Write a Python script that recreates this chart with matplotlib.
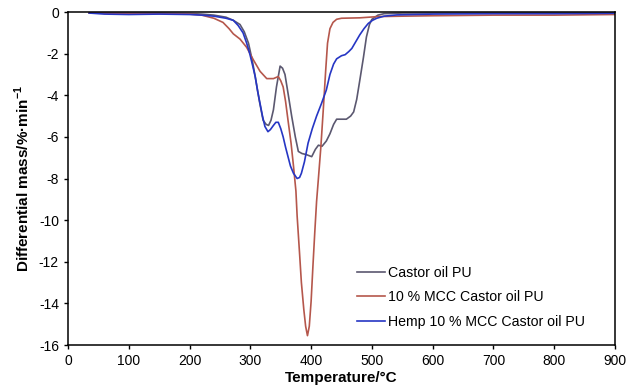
import matplotlib
matplotlib.use("Agg")
import matplotlib.pyplot as plt

plt.rcParams["font.family"] = ["Liberation Sans", "DejaVu Sans"]
plt.rcParams["axes.unicode_minus"] = False

# Castor oil PU
t_castor = [35, 100, 150, 200, 220, 240, 260, 272, 283, 290, 297, 303, 308, 315,
            321, 326, 330, 334, 338, 343, 349, 353, 357, 362, 368, 374, 379, 385,
            392, 401, 407, 412, 418, 425, 431, 437, 442, 450, 458, 465, 470, 475,
            480, 486, 491, 496, 500, 510, 520, 550, 600, 700, 800, 900]
v_castor = [-0.05, -0.05, -0.05, -0.07, -0.1, -0.15, -0.25, -0.4, -0.6, -0.95,
            -1.5, -2.3, -3.1, -4.3, -5.2, -5.4, -5.45, -5.2, -4.7, -3.6, -2.6,
            -2.7, -3.0, -3.9, -5.0, -6.0, -6.7, -6.8, -6.85, -6.95, -6.6, -6.4,
            -6.45, -6.2, -5.85, -5.4, -5.15, -5.15, -5.15, -5.0, -4.8, -4.2,
            -3.3, -2.2, -1.2, -0.6, -0.35, -0.15, -0.08, -0.05, -0.05, -0.05,
            -0.05, -0.05]

# 10 % MCC Castor oil PU
t_mcc = [35, 100, 150, 200, 220, 240, 255, 265, 272, 283, 294, 305, 316, 327,
         338, 346, 350, 354, 358, 362, 367, 371, 375, 377, 381, 384, 388, 391,
         394, 397, 400, 403, 406, 409, 412, 416, 420, 424, 427, 431, 436, 442,
         450, 480, 510, 550, 600, 700, 800, 900]
v_mcc = [-0.05, -0.08, -0.08, -0.1, -0.15, -0.3, -0.5, -0.8, -1.05, -1.3, -1.7,
         -2.3, -2.85, -3.2, -3.2, -3.1, -3.3, -3.6, -4.3, -5.2, -6.3, -7.4,
         -8.6, -9.8, -11.6, -13.0, -14.3, -15.1, -15.55, -15.1, -13.9, -12.2,
         -10.6, -9.1, -8.0, -6.5, -4.7, -2.8, -1.5, -0.8, -0.5, -0.35, -0.3,
         -0.28, -0.22, -0.2, -0.18, -0.15, -0.15, -0.12]

# Hemp 10 % MCC Castor oil PU
t_hemp = [35, 60, 100, 150, 200, 220, 240, 260, 272, 280, 288, 294, 299, 304,
          308, 312, 316, 320, 324, 329, 333, 338, 342, 346, 350, 354, 358, 362,
          366, 371, 377, 381, 384, 389, 395, 402, 409, 417, 425, 431, 437, 442,
          450, 456, 462, 467, 473, 480, 487, 494, 501, 508, 520, 541, 600, 700,
          800, 900]
v_hemp = [-0.05, -0.1, -0.12, -0.1, -0.12, -0.15, -0.2, -0.3, -0.4, -0.65, -1.0,
          -1.5, -2.0, -2.6, -3.1, -3.8, -4.4, -5.0, -5.5, -5.75, -5.65, -5.45,
          -5.3, -5.3, -5.6, -6.0, -6.5, -6.95, -7.4, -7.75, -8.0, -7.95, -7.75,
          -7.2, -6.3, -5.6, -5.0, -4.4, -3.75, -3.0, -2.5, -2.25, -2.1, -2.05,
          -1.9, -1.75, -1.45, -1.1, -0.8, -0.55, -0.4, -0.3, -0.2, -0.14, -0.1,
          -0.08, -0.08, -0.06]

fig = plt.figure(figsize=(6.33, 3.91), dpi=100)
ax = fig.add_axes([0.1074, 0.1176, 0.8642, 0.8517])

ax.plot(t_castor, v_castor, color="#5b5870", lw=1.2, label="Castor oil PU")
ax.plot(t_mcc, v_mcc, color="#b5574c", lw=1.2, label="10 % MCC Castor oil PU")
ax.plot(t_hemp, v_hemp, color="#2636c4", lw=1.2, label="Hemp 10 % MCC Castor oil PU")

ax.set_xlim(0, 900)
ax.set_ylim(-16, 0)
ax.set_xticks(range(0, 901, 100))
ax.set_yticks(range(-16, 1, 2))
ax.tick_params(labelsize=10, length=3, width=1)
for s in ax.spines.values():
    s.set_linewidth(1.1)

ax.set_xlabel("Temperature/°C", fontsize=11, fontweight="bold", labelpad=2)
ax.set_ylabel(r"Differential mass/%·min$^{\mathregular{-1}}$", fontsize=11,
              fontweight="bold", labelpad=5)

ax.legend(loc="lower left", bbox_to_anchor=(0.505, 0.01), frameon=False,
          fontsize=10.2, handlelength=2.0, handletextpad=0.2, labelspacing=0.75)

fig.savefig("out.png", dpi=100)
